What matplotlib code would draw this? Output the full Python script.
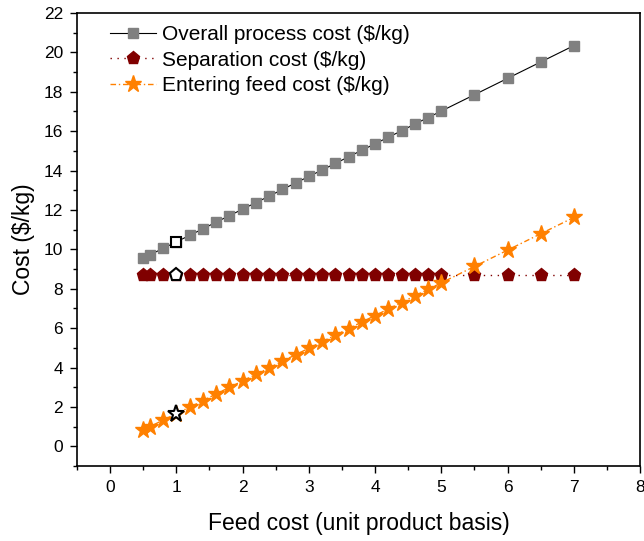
import matplotlib
matplotlib.use('Agg')
import matplotlib.pyplot as plt
from matplotlib.ticker import MultipleLocator

plt.rcParams['font.family'] = ['Liberation Sans', 'DejaVu Sans']

# feed cost on a unit product basis
feed_cost = [0.5, 0.6, 0.8, 1.0, 1.2, 1.4, 1.6, 1.8, 2.0, 2.2, 2.4, 2.6, 2.8, 3.0,
             3.2, 3.4, 3.6, 3.8, 4.0, 4.2, 4.4, 4.6, 4.8, 5.0, 5.5, 6.0, 6.5, 7.0]

overall_cost = [9.55, 9.72, 10.05, 10.38, 10.71, 11.04, 11.38, 11.71, 12.04, 12.37,
                12.70, 13.04, 13.37, 13.70, 14.03, 14.36, 14.70, 15.03, 15.36, 15.69,
                16.02, 16.36, 16.69, 17.02, 17.85, 18.68, 19.51, 20.34]

separation_cost = [8.72] * 28

entering_feed_cost = [0.83, 1.00, 1.33, 1.66, 1.99, 2.32, 2.66, 2.99, 3.32, 3.65,
                      3.98, 4.32, 4.65, 4.98, 5.31, 5.64, 5.98, 6.31, 6.64, 6.97,
                      7.30, 7.64, 7.97, 8.30, 9.13, 9.96, 10.79, 11.62]

# base case point
base_idx = 3


def main():

    fig = plt.figure(figsize=(6.44, 5.41), dpi=100)
    ax = fig.add_axes([0.1196, 0.1386, 0.8742, 0.8374])

    ax.plot(feed_cost, overall_cost, color='black', lw=0.8, ls='-',
            marker='s', ms=7.8, mfc='#808080', mec='#808080',
            label='Overall process cost ($/kg)')
    ax.plot(feed_cost, separation_cost, color='#800000', lw=1.0, ls=(0, (1, 4)),
            marker='p', ms=9.5, mfc='#800000', mec='#800000',
            label='Separation cost ($/kg)')
    ax.plot(feed_cost, entering_feed_cost, color='#FF8000', lw=1.0, ls=(0, (4, 2, 1, 2)),
            marker='*', ms=12.5, mfc='#FF8000', mec='#FF8000',
            label='Entering feed cost ($/kg)')

    #hollow markers for the base case
    xb = feed_cost[base_idx]
    ax.plot([xb], [overall_cost[base_idx]], ls='none', marker='s', ms=7.8,
            mfc='white', mec='black', mew=1.5)
    ax.plot([xb], [separation_cost[base_idx]], ls='none', marker='p', ms=9.5,
            mfc='white', mec='black', mew=1.5)
    ax.plot([xb], [entering_feed_cost[base_idx]], ls='none', marker='*', ms=12.5,
            mfc='white', mec='black', mew=1.5)

    ax.set_xlim(-0.5, 8)
    ax.set_ylim(-1, 22)
    ax.xaxis.set_major_locator(MultipleLocator(1))
    ax.xaxis.set_minor_locator(MultipleLocator(0.5))
    ax.yaxis.set_major_locator(MultipleLocator(2))
    ax.yaxis.set_minor_locator(MultipleLocator(1))
    ax.tick_params(which='major', direction='out', length=5, width=1, labelsize=12.5, pad=5)
    ax.tick_params(which='minor', direction='out', length=3, width=1)
    ax.tick_params(top=False, right=False, which='both')
    for sp in ax.spines.values():
        sp.set_linewidth(1.2)

    ax.set_xlabel('Feed cost (unit product basis)', fontsize=16.5, labelpad=12)
    ax.set_ylabel('Cost ($/kg)', fontsize=16.5, labelpad=6)

    ax.legend(loc='upper left', frameon=False, fontsize=15, handlelength=2.2,
              handletextpad=0.3, labelspacing=0.3, borderaxespad=0.2,
              bbox_to_anchor=(0.037, 1.0))

    fig.savefig('out.png', dpi=100)


if __name__ == '__main__':
    main()
